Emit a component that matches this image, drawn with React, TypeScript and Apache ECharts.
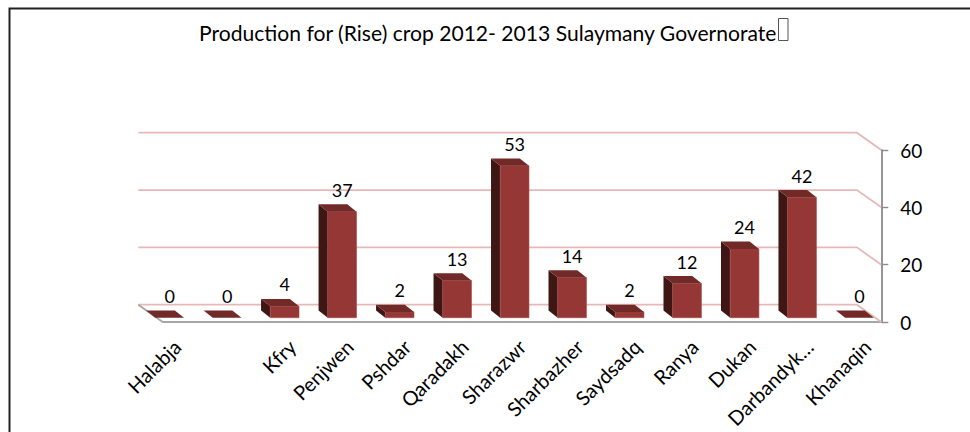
import React, { useEffect, useRef } from "react";
import * as echarts from "echarts";

const chartTitle = "Production for (Rise) crop 2012- 2013 Sulaymany Governorate";
const places = ["Halabja", "", "Kfry", "Penjwen", "Pshdar", "Qaradakh", "Sharazwr", "Sharbazher", "Saydsadq", "Ranya", "Dukan", "Darbandyk…", "Khanaqin"];
const production = [0, 0, 4, 37, 2, 13, 53, 14, 2, 12, 24, 42, 0];
const wallTicks = [0, 20, 40, 60];

// Each place takes one band, followed by an empty spacer band.
const categories: string[] = [];
places.forEach((p, i) => {
  categories.push(p);
  if (i < places.length - 1) categories.push(" ".repeat(i + 1));
});
const barData = production.map((v, i) => [i * 2, v]);

const FONT = "Lato";
const WALL_DX = -24.4;
const WALL_DY = -17.3;
const BAR_DX = -7.4;
const BAR_DY = -4.3;
const SIDE_DX = -9.2;
const SIDE_DY = -7.3;

const App = () => {
  const ref = useRef<HTMLDivElement>(null);
  useEffect(() => {
    const chart = echarts.init(ref.current!, undefined, { renderer: "svg" });
    chart.setOption({
      animation: false,
      backgroundColor: "#fff",
      title: {
        text: chartTitle,
        left: 199,
        top: 22,
        padding: 0,
        textStyle: { fontFamily: FONT, fontSize: 21.1, fontWeight: "normal", color: "#000" },
      },
      grid: { left: 162.7, top: 150, width: 718.6, height: 172 },
      xAxis: {
        type: "category",
        data: categories,
        boundaryGap: true,
        axisLine: { lineStyle: { color: "#a6a6a6", width: 2 } },
        axisTick: { interval: 0, length: 5, alignWithLabel: false, lineStyle: { color: "#8c8c8c", width: 1 } },
        axisLabel: {
          interval: 0,
          rotate: 45,
          margin: 21,
          fontFamily: FONT,
          fontSize: 20,
          color: "#000",
        },
      },
      yAxis: {
        type: "value",
        position: "right",
        min: 0,
        max: 60,
        interval: 20,
        splitLine: { show: false },
        axisLine: { show: true, lineStyle: { color: "#969696", width: 2 } },
        axisTick: { show: true, length: 7, lineStyle: { color: "#8c8c8c", width: 1.4 } },
        axisLabel: { margin: 19, fontFamily: FONT, fontSize: 19, color: "#000", padding: [4, 0, 0, 0] },
      },
      graphic: [
        {
          type: "rect",
          shape: { x: 9.5, y: 8.5, width: 980, height: 460 },
          style: { fill: "none", stroke: "#222", lineWidth: 2 },
          silent: true,
        },
        {
          type: "rect",
          shape: { x: 778.5, y: 18.5, width: 9.5, height: 22 },
          style: { fill: "none", stroke: "#555", lineWidth: 1 },
          silent: true,
        },
      ],
      series: [
        {
          type: "custom",
          coordinateSystem: "cartesian2d",
          silent: true,
          z: 1,
          data: wallTicks.map((t) => [0, t]),
          encode: { x: 0, y: 1 },
          renderItem: (_p: any, api: any) => {
            const v = api.value(1);
            const size = api.size([1, 0]);
            const [xl, y] = api.coord([0, v]);
            const left = xl - size[0] / 2;
            const right = left + size[0] * 25;
            const children: any[] = [
              {
                type: "polyline",
                shape: {
                  points: [
                    [left + WALL_DX, y + WALL_DY],
                    [right + WALL_DX, y + WALL_DY],
                    [right, y],
                  ],
                },
                style: { fill: "none", stroke: "#e6b9b8", lineWidth: 1.8 },
              },
            ];
            if (v === 0) {
              children.push({
                type: "line",
                shape: { x1: left + WALL_DX, y1: y + WALL_DY, x2: left, y2: y },
                style: { stroke: "#a6a6a6", lineWidth: 1.8 },
              });
            }
            return { type: "group", children };
          },
        },
        {
          type: "custom",
          coordinateSystem: "cartesian2d",
          silent: true,
          z: 2,
          data: barData,
          encode: { x: 0, y: 1 },
          label: { show: false },
          renderItem: (_p: any, api: any) => {
            const v = api.value(1);
            const size = api.size([1, 0]);
            const [cx, yv] = api.coord([api.value(0), v]);
            const [, y0] = api.coord([api.value(0), 0]);
            const l = cx - size[0] / 2 + BAR_DX;
            const r = cx + size[0] / 2 + BAR_DX;
            const top = yv + BAR_DY;
            const bot = y0 + BAR_DY;
            const children: any[] = [];
            if (v > 0) {
              children.push({
                type: "polygon",
                shape: { points: [[l, top], [l + SIDE_DX, top + SIDE_DY], [l + SIDE_DX, bot + SIDE_DY], [l, bot]] },
                style: { fill: "#3e1614" },
              });
              children.push({
                type: "rect",
                shape: { x: l, y: top, width: r - l, height: bot - top },
                style: { fill: "#953735", stroke: "#a24a48", lineWidth: 0.6 },
              });
            }
            children.push({
              type: "polygon",
              shape: { points: [[l, top], [l + SIDE_DX, top + SIDE_DY], [r + SIDE_DX, top + SIDE_DY], [r, top]] },
              style: { fill: "#722a28" },
            });
            children.push({
              type: "text",
              style: {
                text: String(v),
                x: (l + r) / 2,
                y: top + SIDE_DY - 5.5,
                align: "center",
                verticalAlign: "bottom",
                fontFamily: FONT,
                fontSize: 18,
                fill: "#000",
              },
            });
            return { type: "group", children };
          },
        },
      ],
    });
    return () => chart.dispose();
  }, []);
  return <div ref={ref} style={{ width: 970, height: 432, position: "fixed", left: 0, top: 0 }} />;
};

export default App;
